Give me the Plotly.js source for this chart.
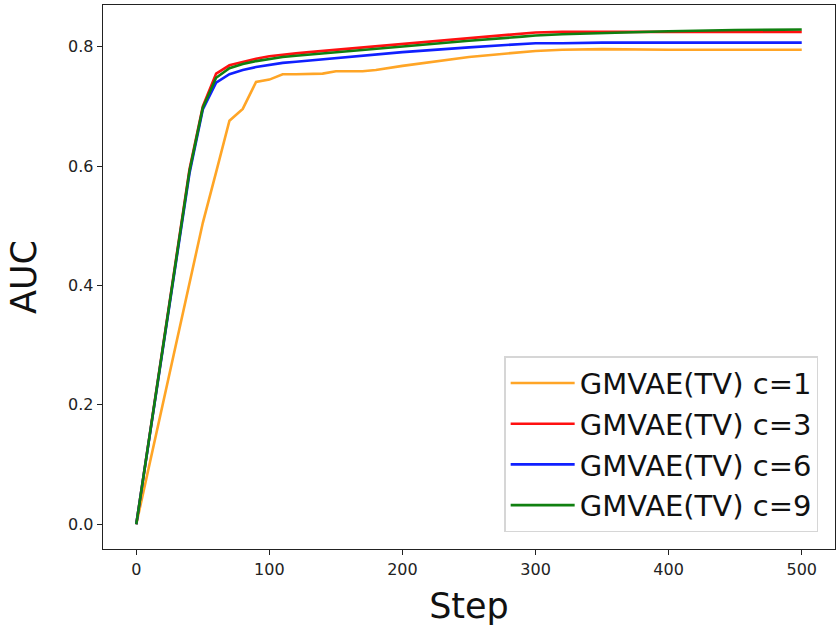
<!DOCTYPE html>
<html>
<head>
<meta charset="utf-8">
<script src="https://cdn.plot.ly/plotly-3.0.1.min.js"></script>
<style>
  html, body { margin: 0; padding: 0; background: #fff; }
  #chart { width: 839px; height: 630px; }
</style>
</head>
<body>
<div id="chart"></div>
<script>
const steps = [0, 10, 20, 30, 40, 50, 60, 70, 80, 90, 100, 110, 120, 130, 140, 150, 160, 170,
               180, 200, 250, 290, 300, 320, 350, 400, 450, 500];

const aucC1 = [0, 0.100, 0.200, 0.300, 0.400, 0.505, 0.590, 0.676, 0.696, 0.741, 0.745, 0.754, 0.754, 0.754, 0.755, 0.759, 0.759, 0.759,
               0.761, 0.768, 0.783, 0.792, 0.793, 0.795, 0.796, 0.795, 0.795, 0.795];
const aucC3 = [0, 0.150, 0.300, 0.450, 0.595, 0.700, 0.755, 0.769, 0.775, 0.780, 0.784, 0.787, 0.789, 0.791, 0.793, 0.795, 0.797, 0.799,
               0.801, 0.805, 0.815, 0.823, 0.824, 0.825, 0.825, 0.825, 0.825, 0.825];
const aucC6 = [0, 0.148, 0.296, 0.444, 0.588, 0.695, 0.740, 0.754, 0.761, 0.766, 0.770, 0.773, 0.775, 0.777, 0.779, 0.781, 0.783, 0.785,
               0.787, 0.791, 0.799, 0.805, 0.806, 0.806, 0.807, 0.807, 0.807, 0.807];
const aucC9 = [0, 0.150, 0.299, 0.448, 0.592, 0.698, 0.748, 0.764, 0.771, 0.776, 0.780, 0.783, 0.785, 0.787, 0.789, 0.791, 0.793, 0.795,
               0.797, 0.800, 0.810, 0.817, 0.819, 0.821, 0.823, 0.826, 0.828, 0.829];

const seriesNames = ["GMVAE(TV) c=1", "GMVAE(TV) c=3", "GMVAE(TV) c=6", "GMVAE(TV) c=9"];
const seriesColors = ["#ffa526", "#ff1010", "#1020ff", "#108010"];
const seriesValues = [aucC1, aucC3, aucC6, aucC9];

const traces = seriesValues.map((vals, i) => ({
    x: steps,
    y: vals,
    type: "scatter",
    mode: "lines",
    name: seriesNames[i],
    line: { color: seriesColors[i], width: 2.6 }
}));

const axisStyle = {
    showline: true,
    mirror: true,
    linecolor: "#222",
    linewidth: 1.3,
    showgrid: false,
    zeroline: false,
    ticks: "outside",
    ticklen: 5,
    tickwidth: 1.2,
    tickcolor: "#222",
    tickfont: { family: "DejaVu Sans", size: 16, color: "#222" }
};

const layout = {
    width: 839,
    height: 630,
    margin: { l: 103, r: 4, t: 5, b: 81 },
    paper_bgcolor: "#fff",
    plot_bgcolor: "#fff",
    font: { family: "DejaVu Sans", color: "#111" },
    xaxis: Object.assign({}, axisStyle, {
        range: [-25, 525],
        tickvals: [0, 100, 200, 300, 400, 500],
        title: { text: "Step", font: { size: 35 }, standoff: 16 }
    }),
    yaxis: Object.assign({}, axisStyle, {
        range: [-0.0415, 0.870],
        tickvals: [0, 0.2, 0.4, 0.6, 0.8],
        tickformat: ".1f",
        title: { text: "AUC", font: { size: 35 }, standoff: 20 }
    }),
    showlegend: true,
    legend: {
        x: 0.977,
        y: 0.031,
        xanchor: "right",
        yanchor: "bottom",
        bgcolor: "rgba(255,255,255,0.85)",
        bordercolor: "#d6d6d6",
        borderwidth: 1.5,
        font: { family: "DejaVu Sans", size: 29, color: "#111" },
        itemwidth: 64
    }
};

Plotly.newPlot("chart", traces, layout, { displayModeBar: false, staticPlot: true });
</script>
</body>
</html>
